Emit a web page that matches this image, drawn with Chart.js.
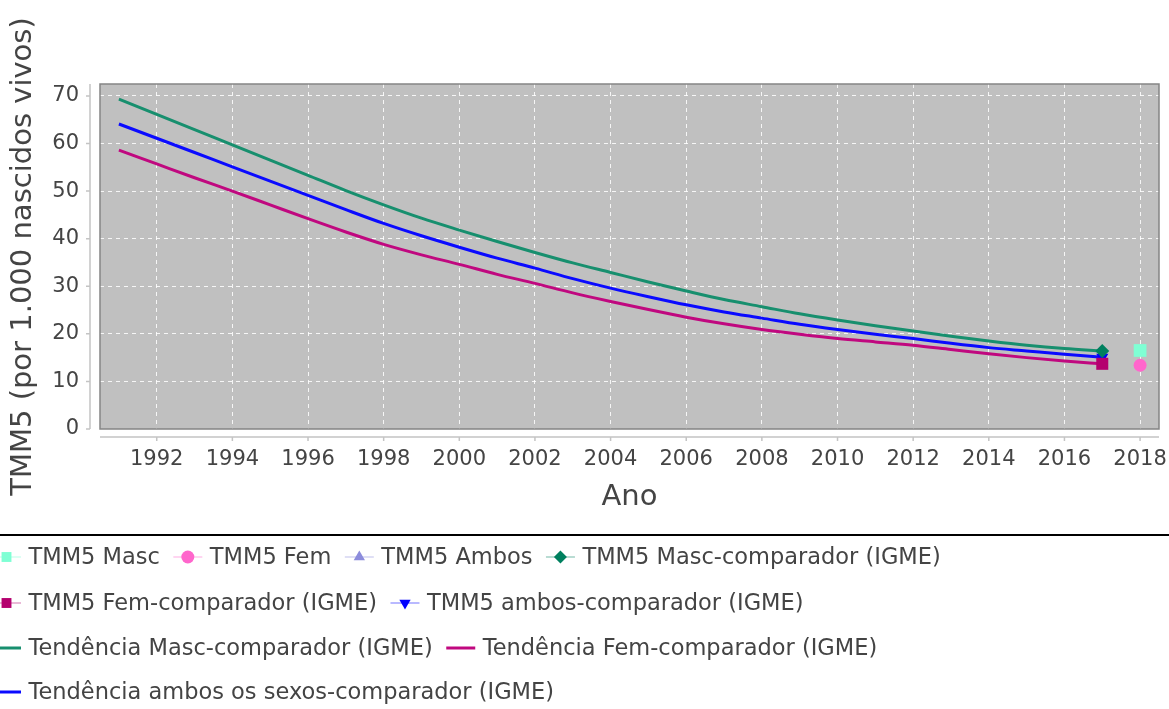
<!DOCTYPE html>
<html>
<head>
<meta charset="utf-8">
<script src="https://cdn.jsdelivr.net/npm/chart.js@4.4.1/dist/chart.umd.min.js"></script>
<style>
  html, body { margin: 0; padding: 0; background: #fff; }
</style>
</head>
<body>
<canvas id="chart" width="1169" height="709"></canvas>
<script>
'use strict'
// anos das tendencias (IGME)
const anos = [
  1991, 1992, 1993, 1994, 1995, 1996, 1997, 1998, 1999, 2000, 2001, 2002, 2003, 2004,
  2005, 2006, 2007, 2008, 2009, 2010, 2011, 2012, 2013, 2014, 2015, 2016, 2017,
]
const tendMasc = [
  69.3, 66.1, 62.9, 59.7, 56.5, 53.3, 50.1, 47.1, 44.3, 41.8, 39.4, 37.1, 34.9, 32.9,
  30.9, 29.0, 27.2, 25.7, 24.2, 22.9, 21.7, 20.6, 19.5, 18.5, 17.6, 16.9, 16.4,
]
const tendFem = [
  58.6, 55.7, 52.8, 50.0, 47.1, 44.2, 41.4, 38.8, 36.6, 34.6, 32.5, 30.6, 28.6, 26.8,
  25.1, 23.5, 22.1, 20.9, 19.9, 19.0, 18.3, 17.6, 16.7, 15.8, 15.0, 14.3, 13.7,
]
const tendAmbos = [
  64.1, 61.1, 58.1, 55.1, 52.1, 49.1, 46.1, 43.2, 40.6, 38.2, 35.9, 33.8, 31.6, 29.6,
  27.8, 26.1, 24.6, 23.3, 22.0, 20.9, 19.9, 19.0, 18.0, 17.1, 16.4, 15.7, 15.1,
]

// pontos observados
const anosTMM5 = [2018]
const tmm5Masc = [16.5]
const tmm5Fem = [13.4]
const tmm5Ambos = [null]

// ultimo valor do comparador (IGME)
const anosIGME = [2017]
const igmeMasc = [16.4]
const igmeFem = [13.7]
const igmeAmbos = [15.1]

const xTicks = [1992, 1994, 1996, 1998, 2000, 2002, 2004, 2006, 2008, 2010, 2012, 2014, 2016, 2018]
const yTicks = [0, 10, 20, 30, 40, 50, 60, 70]

const FONT = "'DejaVu Sans', sans-serif"
const TEXT = '#444'

const toXY = (xs, ys) => xs.map((x, i) => ({ x: x, y: ys[i] }))

function pontos(label, xs, ys, color, style, radius, rotation) {
  return {
    label: label,
    data: toXY(xs, ys),
    showLine: false,
    backgroundColor: color,
    borderColor: color,
    pointStyle: style,
    pointRadius: radius,
    pointRotation: rotation || 0,
    pointBorderWidth: 0,
    order: 0,
    legendKind: 'marker',
  }
}

function tendencia(label, ys, color) {
  return {
    label: label,
    data: toXY(anos, ys),
    borderColor: color,
    backgroundColor: color,
    borderWidth: 3,
    pointRadius: 0,
    cubicInterpolationMode: 'monotone',
    order: 1,
    legendKind: 'line',
  }
}

const datasets = [
  pontos('TMM5 Masc', anosTMM5, tmm5Masc, '#7fffd4', 'rect', 9),
  pontos('TMM5 Fem', anosTMM5, tmm5Fem, '#ff66cc', 'circle', 6.5),
  pontos('TMM5 Ambos', anosTMM5, tmm5Ambos, '#8c8cdc', 'triangle', 7),
  pontos('TMM5 Masc-comparador (IGME)', anosIGME, igmeMasc, '#00805f', 'rectRot', 7),
  pontos('TMM5 Fem-comparador (IGME)', anosIGME, igmeFem, '#b4006e', 'rect', 8.5),
  pontos('TMM5 ambos-comparador (IGME)', anosIGME, igmeAmbos, '#0000ff', 'triangle', 7, 180),
  tendencia('Tendência Masc-comparador (IGME)', tendMasc, '#178f6e'),
  tendencia('Tendência Fem-comparador (IGME)', tendFem, '#c0087f'),
  tendencia('Tendência ambos os sexos-comparador (IGME)', tendAmbos, '#0a0aff'),
]
// the blue triangle sits under the other IGME markers
datasets[5].order = 0.5

// grey plot background + border + offset axis lines
const plotBox = {
  id: 'plotBox',
  beforeDraw(chart) {
    const { ctx, chartArea: a } = chart
    ctx.save()
    ctx.fillStyle = '#c0c0c0'
    ctx.fillRect(a.left, a.top, a.right - a.left, a.bottom - a.top)
    ctx.restore()
  },
  afterDraw(chart) {
    const { ctx, chartArea: a, scales } = chart
    ctx.save()
    ctx.strokeStyle = '#858585'
    ctx.lineWidth = 1.5
    ctx.strokeRect(a.left, a.top, a.right - a.left, a.bottom - a.top)

    ctx.strokeStyle = '#c4c4c4'
    ctx.lineWidth = 1.5
    ctx.beginPath()
    ctx.moveTo(a.left - 10, a.top)
    ctx.lineTo(a.left - 10, a.bottom)
    scales.y.ticks.forEach((t) => {
      const py = scales.y.getPixelForValue(t.value)
      ctx.moveTo(a.left - 14, py)
      ctx.lineTo(a.left - 10, py)
    })
    ctx.moveTo(a.left, a.bottom + 8)
    ctx.lineTo(a.right, a.bottom + 8)
    scales.x.ticks.forEach((t) => {
      const px = scales.x.getPixelForValue(t.value)
      ctx.moveTo(px, a.bottom + 8)
      ctx.lineTo(px, a.bottom + 12)
    })
    ctx.stroke()
    ctx.restore()
  },
}

// legend below a black rule, wrapping like the original
const bottomLegend = {
  id: 'bottomLegend',
  afterDraw(chart) {
    const { ctx } = chart
    const W = chart.width
    const ruleY = 535
    const rowY = [557, 603, 648, 692]
    const symW = 29
    const textGap = 7.5
    const itemGap = 13.5
    const startX = -8
    ctx.save()
    ctx.strokeStyle = '#000'
    ctx.lineWidth = 2
    ctx.beginPath()
    ctx.moveTo(0, ruleY)
    ctx.lineTo(W, ruleY)
    ctx.stroke()

    ctx.font = '22.5px ' + FONT
    ctx.textBaseline = 'middle'
    let x = startX
    let row = 0
    chart.data.datasets.forEach((ds) => {
      const tw = ctx.measureText(ds.label).width
      const itemW = symW + textGap + tw
      if (x + itemW > W && x > 0) {
        row++
        x = startX
      }
      const y = rowY[row]
      ctx.strokeStyle = ds.borderColor
      if (ds.legendKind === 'line') {
        ctx.lineWidth = 3
      } else {
        ctx.lineWidth = 1
        ctx.globalAlpha = 0.55
      }
      ctx.beginPath()
      ctx.moveTo(x, y)
      ctx.lineTo(x + symW, y)
      ctx.stroke()
      ctx.globalAlpha = 1
      if (ds.legendKind === 'marker') {
        ctx.fillStyle = ds.backgroundColor
        const r = ds.pointStyle === 'rect' ? 7 : 6.5
        Chart.helpers.drawPoint(
          ctx,
          { pointStyle: ds.pointStyle, rotation: ds.pointRotation, radius: r, borderWidth: 0 },
          x + symW / 2,
          y
        )
      }
      ctx.fillStyle = TEXT
      ctx.fillText(ds.label, x + symW + textGap, y + 1)
      x += itemW + itemGap
    })
    ctx.restore()
  },
}

const chartCtx = document.getElementById('chart').getContext('2d')
const chartInstance = new Chart(chartCtx, {
  type: 'line',
  data: { datasets: datasets },
  plugins: [plotBox, bottomLegend],
  options: {
    responsive: false,
    animation: false,
    layout: { padding: { left: 0, right: 10, top: 84, bottom: 180 } },
    plugins: {
      legend: { display: false },
      tooltip: { enabled: false },
    },
    scales: {
      x: {
        type: 'linear',
        min: 1990.5,
        max: 2018.5,
        afterBuildTicks: (scale) => {
          scale.ticks = xTicks.map((v) => ({ value: v }))
        },
        afterFit: (scale) => {
          scale.height = 100
          scale.paddingLeft = 0
          scale.paddingRight = 0
        },
        border: { display: false, dash: [4, 4] },
        grid: { color: 'rgba(255,255,255,0.85)', lineWidth: 1, drawTicks: false },
        ticks: {
          padding: 18,
          color: TEXT,
          font: { family: FONT, size: 21 },
          callback: (v) => String(v),
        },
        title: {
          display: true,
          text: 'Ano',
          color: TEXT,
          font: { family: FONT, size: 29 },
          padding: { top: 0, bottom: 14 },
        },
      },
      y: {
        min: 0,
        max: 72.5,
        afterBuildTicks: (scale) => {
          scale.ticks = yTicks.map((v) => ({ value: v }))
        },
        afterFit: (scale) => {
          scale.width = 100
          scale.paddingTop = 0
          scale.paddingBottom = 0
        },
        border: { display: false, dash: [4, 4] },
        grid: { color: 'rgba(255,255,255,0.85)', lineWidth: 1, drawTicks: false },
        ticks: {
          padding: 21,
          color: TEXT,
          font: { family: FONT, size: 21 },
        },
        title: {
          display: true,
          text: 'TMM5 (por 1.000 nascidos vivos)',
          color: TEXT,
          font: { family: FONT, size: 29 },
          padding: { top: 6, bottom: 0 },
        },
      },
    },
  },
})
</script>
</body>
</html>
